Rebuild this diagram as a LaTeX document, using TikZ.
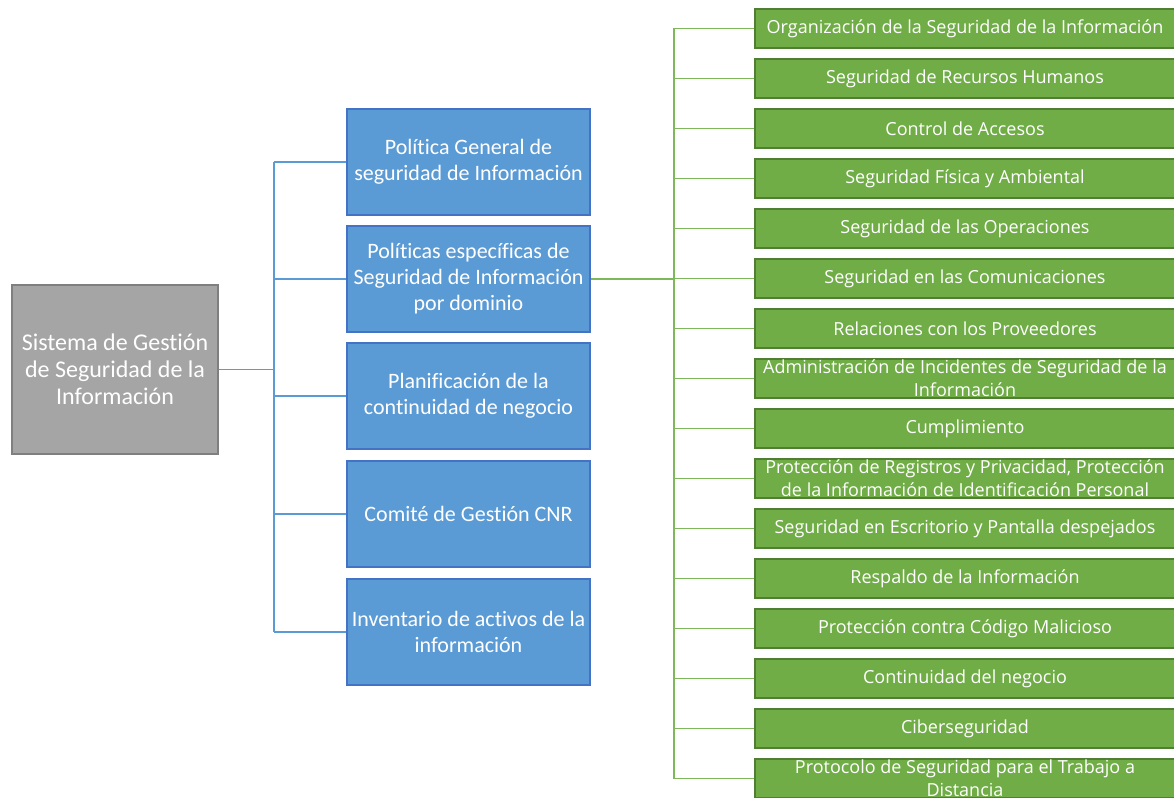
\documentclass[tikz,border=0pt]{standalone}
\usepackage{fontspec}
\setmainfont[RawFeature={-liga;-clig;-dlig}]{Carlito}
\newfontfamily\greenfont{Open Sans}
\definecolor{grayfill}{HTML}{A5A5A5}
\definecolor{grayedge}{HTML}{7F7F7F}
\definecolor{bluefill}{HTML}{5B9BD5}
\definecolor{blueedge}{HTML}{4472C4}
\definecolor{blueline}{HTML}{5B9BD5}
\definecolor{greenfill}{HTML}{70AD47}
\definecolor{greenedge}{HTML}{507E32}
\definecolor{greenline}{HTML}{7DB85A}
\tikzset{
  rootbox/.style={draw=grayedge, fill=grayfill, line width=2pt, text=white, align=center,
    minimum width=206pt, minimum height=169pt, inner sep=0pt,
    font=\fontsize{24}{27}\selectfont},
  bluebox/.style={draw=blueedge, fill=bluefill, line width=1.8pt, text=white, align=center,
    minimum width=243pt, minimum height=106pt, inner sep=0pt,
    font=\fontsize{22}{26}\selectfont},
  greenbox/.style={draw=greenedge, fill=greenfill, line width=2pt, text=white, align=center,
    minimum width=420pt, minimum height=39pt, inner sep=0pt,
    font=\greenfont\fontsize{18}{23}\selectfont},
  bconn/.style={draw=blueline, line width=1.5pt},
  gconn/.style={draw=greenline, line width=1.8pt},
}
\begin{document}
\begin{tikzpicture}[x=1pt,y=-1pt]
\useasboundingbox (0,0) rectangle (1174,797);
\clip (0,0) rectangle (1174,797);
\fill[white] (0,0) rectangle (1174,797);
\coordinate (bx) at (274,0);
\coordinate (gx) at (674,0);
\node[rootbox] (root) at (115,369.5) {Sistema de Gestión\\de Seguridad de la\\Información};
\node[bluebox] (b1) at (468.5,162) {Política General de\\seguridad de Información};
\node[bluebox] (b2) at (468.5,279) {Políticas específicas de\\Seguridad de Información\\por dominio};
\node[bluebox] (b3) at (468.5,396) {Planificación de la\\continuidad de negocio};
\node[bluebox] (b4) at (468.5,514) {Comité de Gestión CNR};
\node[bluebox] (b5) at (468.5,632) {Inventario de activos de la\\información};
\foreach \i/\t in {1/{Organización de la Seguridad de la Información},
  2/{Seguridad de Recursos Humanos},
  3/{Control de Accesos},
  4/{Seguridad Física y Ambiental},
  5/{Seguridad de las Operaciones},
  6/{Seguridad en las Comunicaciones},
  7/{Relaciones con los Proveedores},
  8/{Administración de Incidentes de Seguridad de la\\Información},
  9/{Cumplimiento},
  10/{Protección de Registros y Privacidad, Protección\\de la Información de Identificación Personal},
  11/{Seguridad en Escritorio y Pantalla despejados},
  12/{Respaldo de la Información},
  13/{Protección contra Código Malicioso},
  14/{Continuidad del negocio},
  15/{Ciberseguridad},
  16/{Protocolo de Seguridad para el Trabajo a\\Distancia}}
{
  \node[greenbox] (g\i) at (965,{28.5+50*(\i-1)}) {\t};
}
% blue connectors
\draw[bconn] (root.east) -- (root.east -| bx);
\draw[bconn] (b1.west -| bx) -- (b5.west -| bx);
\foreach \i in {1,...,5} { \draw[bconn] (b\i.west -| bx) -- (b\i.west); }
% green connectors
\draw[gconn] (b2.east) -- (b2.east -| gx);
\draw[gconn] (g1.west -| gx) -- (g16.west -| gx);
\foreach \i in {1,...,16} { \draw[gconn] (g\i.west -| gx) -- (g\i.west); }
\end{tikzpicture}
\end{document}
